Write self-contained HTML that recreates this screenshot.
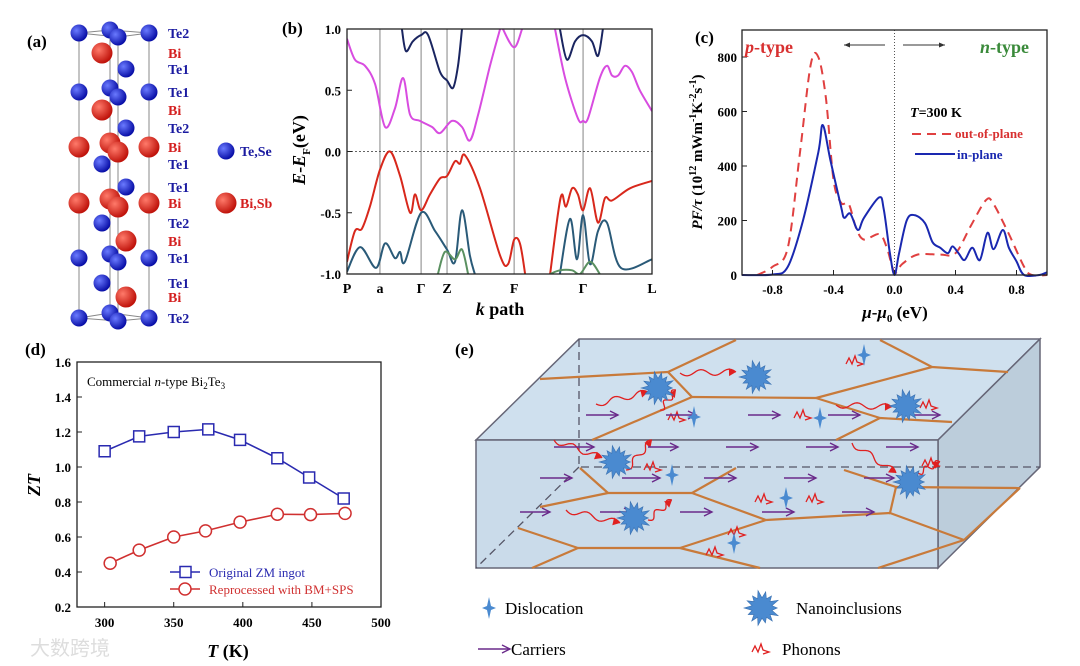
<!DOCTYPE html>
<html><head><meta charset="utf-8"><style>
html,body{margin:0;padding:0;background:#fff;}
svg{display:block;font-family:"Liberation Serif",serif;}
.b{font-weight:bold;}
</style></head><body>
<svg id="fig" width="1080" height="666" viewBox="0 0 1080 666" xmlns="http://www.w3.org/2000/svg">
<g id="pa"></g>
<g id="pb"></g>
<g id="pc"></g>
<g id="pd"></g>
<g id="pe"></g>
<text x="30" y="655" font-family="Liberation Sans,Noto Sans CJK SC,sans-serif" font-size="20" fill="#ddd">大数跨境</text>
</svg>
<script>
// ---------- data ----------
// panel a atoms: [x, y, type]
const atomsA=[[79,33,'B'],[110,30,'B'],[149,33,'B'],[118,37,'B'],[102,53,'R'],[126,69,'B'],
[79,92,'B'],[110,88,'B'],[149,92,'B'],[118,97,'B'],[102,110,'R'],[126,128,'B'],
[79,147,'R'],[110,143,'R'],[149,147,'R'],[118,152,'R'],[102,164,'B'],[126,187,'B'],
[79,203,'R'],[110,199,'R'],[149,203,'R'],[118,207,'R'],[102,223,'B'],[126,241,'R'],
[79,258,'B'],[110,254,'B'],[149,258,'B'],[118,262,'B'],[102,283,'B'],[126,297,'R'],
[79,318,'B'],[110,313,'B'],[149,318,'B'],[118,321,'B']];
const labelsA=['Te2','Bi','Te1','Te1','Bi','Te2','Bi','Te1','Te1','Bi','Te2','Bi','Te1','Te1','Bi','Te2'];
const labelYA=[33,53,69,92,110,128,147,164,187,203,223,241,258,283,297,318];

// panel b bands: k (% of path), E (eV)
const kTicks=['P','a','Γ','Z','F','Γ','L'];
const kTickPos=[0,10.8,24.3,32.8,54.8,77.4,100];
const bMagA_k=[0,2.6,5.9,9.2,12.5,15.7,18.4,20.7,23.9,27.9,30.5,34.4,37.7,40.3,43,46.9,50.2];
const bMagA_E=[0.92,0.75,0.7,0.55,0.2,0.35,0.6,0.3,0.25,0.2,0.15,0.25,0.2,0.09,0.3,0.7,1.0];
const bMagB_k=[51.1,54.8,57.4];
const bMagB_E=[1.0,0.85,1.0];
const bMagC_k=[68.2,71.5,75.7,77.4,79,82.9,85.2,86.9,88.9,91.1,93.4,96,100];
const bMagC_E=[1.0,0.6,0.27,0.25,0.27,0.6,0.7,0.62,0.62,0.7,0.65,0.5,0.33];
const bNavA_k=[18,19.3,21.6,24.3,26.6,30.5,32.8,34.8,36.4,37.7];
const bNavA_E=[1.0,0.82,0.9,0.95,0.95,0.65,0.58,0.52,0.7,1.0];
const bNavB_k=[69.8,72.1,74.8,77.4,80.3,82.3,83.9];
const bNavB_E=[1.0,0.75,0.9,0.95,0.9,0.78,1.0];
const bRedA_k=[0,2.6,4.9,7.5,10.8,14.1,17.4,20.7,22.3,24.3,27.2,30.5,32.8,35.4,37,38.7,43.6,50.2,52.8,54.8,56.7,58.4];
const bRedA_E=[-0.9,-0.65,-0.63,-0.45,-0.15,0,-0.2,-0.5,-0.35,-0.48,-0.35,-0.22,-0.2,-0.08,-0.1,-0.03,-0.3,-0.85,-0.92,-0.72,-0.75,-1.0];
const bRedB_k=[66.6,69.2,70.5,71.8,73.8,75.7,77.4,79.7,82.3,84.6,86.9,92.8,100];
const bRedB_E=[-1.0,-0.5,-0.35,-0.45,-0.3,-0.35,-0.48,-0.3,-0.58,-0.38,-0.4,-0.3,-0.24];
const bTealA_k=[0,4.3,9.5,12.5,15.7,17.4,19,24.3,28.9,32.8,35.4,37.7,40.3,41.9];
const bTealA_E=[-0.98,-0.78,-0.95,-0.75,-0.87,-0.82,-0.9,-0.5,-0.65,-0.8,-0.9,-0.48,-0.85,-1.0];
const bTealB_k=[69.8,73.1,75.4,77.4,79.7,82.3,85.2,89.8,100];
const bTealB_E=[-1.0,-0.55,-0.88,-0.52,-0.92,-0.65,-0.58,-0.95,-0.88];
const bGrnA_k=[29.8,32.1,35.4,37.7,39.7];
const bGrnA_E=[-1.0,-0.82,-0.88,-0.8,-1.0];
const bGrnB_k=[66.6,69.8,73.8,76.4,79.7,82.9];
const bGrnB_E=[-1.0,-0.97,-0.97,-1.0,-0.9,-1.0];
const bYTicks=[1.0,0.5,0.0,-0.5,-1.0];

// panel c
const cInMu=[-1,-0.8,-0.7,-0.6,-0.5,-0.47,-0.42,-0.35,-0.33,-0.29,-0.24,-0.2,-0.1,-0.07,-0.03,0,0.03,0.08,0.13,0.2,0.25,0.3,0.35,0.38,0.42,0.46,0.51,0.56,0.61,0.65,0.71,0.75,0.8,0.85,0.95,1.0];
const cInPF=[0,2,30,200,450,550,420,250,210,225,165,210,285,240,80,0,80,200,220,190,120,100,80,105,80,55,100,55,155,95,165,100,50,0,0,10];
const cOutMu=[-0.9,-0.8,-0.7,-0.62,-0.55,-0.5,-0.45,-0.4,-0.35,-0.3,-0.25,-0.2,-0.1,-0.05,0,0.05,0.15,0.3,0.4,0.5,0.6,0.65,0.75,0.85,0.9,1.0];
const cOutPF=[0,30,100,450,770,800,650,350,265,260,170,130,150,100,10,40,75,75,80,180,275,260,150,30,0,0];
const cXTicks=[-0.8,-0.4,0.0,0.4,0.8];
const cYTicks=[0,200,400,600,800];

// panel d
const dBlueT=[300,325,350,375,398,425,448,473];
const dBlueZT=[1.09,1.175,1.2,1.215,1.155,1.05,0.94,0.82];
const dRedT=[304,325,350,373,398,425,449,474];
const dRedZT=[0.45,0.525,0.60,0.635,0.685,0.73,0.728,0.735];
const dXTicks=[300,350,400,450,500];
const dYTicks=[0.2,0.4,0.6,0.8,1.0,1.2,1.4,1.6];

// ---------- helpers ----------
const NS='http://www.w3.org/2000/svg';
function mk(parent,tag,attrs,text){const e=document.createElementNS(NS,tag);for(const k in attrs)e.setAttribute(k,attrs[k]);if(text!==undefined)e.textContent=text;parent.appendChild(e);return e;}
function smooth(pts){if(pts.length<3)return 'M'+pts.map(p=>p.join(',')).join('L');let d='M'+pts[0][0]+','+pts[0][1];for(let i=0;i<pts.length-1;i++){const p0=pts[i-1]||pts[i],p1=pts[i],p2=pts[i+1],p3=pts[i+2]||p2;const c1=[p1[0]+(p2[0]-p0[0])/6,p1[1]+(p2[1]-p0[1])/6],c2=[p2[0]-(p3[0]-p1[0])/6,p2[1]-(p3[1]-p1[1])/6];d+='C'+c1[0].toFixed(1)+','+c1[1].toFixed(1)+' '+c2[0].toFixed(1)+','+c2[1].toFixed(1)+' '+p2[0].toFixed(1)+','+p2[1].toFixed(1);}return d;}

// ---------- panel a ----------
const pa=document.getElementById('pa');
let t=mk(pa,'text',{x:27,y:47,'font-size':17,'font-weight':'bold'},'(a)');


[[79,33,79,318],[149,33,149,318],[110,30,110,313],[118,37,118,321],[79,33,110,30],[110,30,149,33],[79,33,118,37],[118,37,149,33],[79,318,110,313],[110,313,149,318],[79,318,118,321],[118,321,149,318]].forEach(l=>{
 const e=mk(pa,'line',{x1:l[0],y1:l[1],x2:l[2],y2:l[3],stroke:'#888','stroke-width':1});
 
 
});
const defs=mk(document.getElementById('fig'),'defs',{});
const gb=mk(defs,'radialGradient',{id:'gB',cx:'35%',cy:'35%',r:'65%'});mk(gb,'stop',{offset:'0','stop-color':'#6a7aff'});mk(gb,'stop',{offset:'1','stop-color':'#0a10a8'});
const gr=mk(defs,'radialGradient',{id:'gR',cx:'35%',cy:'35%',r:'65%'});mk(gr,'stop',{offset:'0','stop-color':'#ff7a6a'});mk(gr,'stop',{offset:'1','stop-color':'#c0140c'});
atomsA.forEach(a=>{
 const e=mk(pa,'circle',{cx:a[0],cy:a[1],r:a[2]==='B'?8.5:10.5,fill:a[2]==='B'?'url(#gB)':'url(#gR)'});
 
 
});
labelsA.forEach((s,i)=>{
 const e=mk(pa,'text',{x:168,y:labelYA[i]+5,'font-size':14,'font-weight':'bold',fill:s==='Bi'?'#d42020':'#1a1aa0'},s);
 
 
});
[[226,151,'B','Te,Se'],[226,203,'R','Bi,Sb']].forEach(l=>{
 const c=mk(pa,'circle',{cx:l[0],cy:l[1],r:l[2]==='B'?8.5:10.5,fill:l[2]==='B'?'url(#gB)':'url(#gR)'});
 
 
 const e=mk(pa,'text',{x:240,y:l[1]+5,'font-size':14,'font-weight':'bold',fill:l[2]==='B'?'#1a1aa0':'#d42020'},l[3]);
 
 
});

// ---------- panel b ----------
const pb=document.getElementById('pb');
const bx=k=>347+k/100*305, by=E=>29+(1-E)/2*245;
t=mk(pb,'text',{x:282,y:34,'font-size':17,'font-weight':'bold'},'(b)');


const cpB=mk(defs,'clipPath',{id:'clipB'});mk(cpB,'rect',{x:347,y:29,width:305,height:245});
kTickPos.forEach((k,i)=>{
 if(i>0&&i<6){const e=mk(pb,'line',{x1:bx(k),y1:29,x2:bx(k),y2:274,stroke:'#999','stroke-width':1.2});
 
 }
 const e=mk(pb,'text',{x:bx(k),y:293,'font-size':14,'font-weight':'bold','text-anchor':'middle'},kTicks[i]);
 
 
});
t=mk(pb,'line',{x1:347,y1:by(0),x2:652,y2:by(0),stroke:'#333','stroke-width':0.8,'stroke-dasharray':'2,2'});


const bandsG=mk(pb,'g',{'clip-path':'url(#clipB)'});
[[bMagA_k,bMagA_E,'#d84ce0'],[bMagB_k,bMagB_E,'#d84ce0'],[bMagC_k,bMagC_E,'#d84ce0'],[bNavA_k,bNavA_E,'#1a2560'],[bNavB_k,bNavB_E,'#1a2560'],[bRedA_k,bRedA_E,'#d8281c'],[bRedB_k,bRedB_E,'#d8281c'],[bTealA_k,bTealA_E,'#2a5a78'],[bTealB_k,bTealB_E,'#2a5a78'],[bGrnA_k,bGrnA_E,'#5a9060'],[bGrnB_k,bGrnB_E,'#5a9060']].forEach(s=>{
 const e=mk(bandsG,'path',{d:smooth(s[0].map((k,i)=>[bx(k),by(s[1][i])])),fill:'none',stroke:s[2],'stroke-width':2});
 
 
});
t=mk(pb,'rect',{x:347,y:29,width:305,height:245,fill:'none',stroke:'#222','stroke-width':1.3});


bYTicks.forEach(v=>{
 const e=mk(pb,'text',{x:341,y:by(v)+5,'font-size':13,'font-weight':'bold','text-anchor':'end'},v.toFixed(1));
 
 
 mk(pb,'line',{x1:347,y1:by(v),x2:352,y2:by(v),stroke:'#222'});
});
t=mk(pb,'text',{x:500,y:315,'font-size':18,'font-weight':'bold','text-anchor':'middle'});
mk(t,'tspan',{'font-style':'italic'},'k');mk(t,'tspan',{},' path');


t=mk(pb,'text',{x:0,y:0,'font-size':18,'font-weight':'bold','text-anchor':'middle',transform:'translate(305,150) rotate(-90)'});
mk(t,'tspan',{'font-style':'italic'},'E');mk(t,'tspan',{},'-');mk(t,'tspan',{'font-style':'italic'},'E');mk(t,'tspan',{'font-size':11,dy:5},'F');mk(t,'tspan',{dy:-5},'(eV)');



// ---------- panel c ----------
const pc=document.getElementById('pc');
const cx=m=>742+(m+1)/2*305, cy=v=>275-v*0.2725;
t=mk(pc,'text',{x:695,y:43,'font-size':17,'font-weight':'bold'},'(c)');


t=mk(pc,'line',{x1:cx(0),y1:30,x2:cx(0),y2:275,stroke:'#555','stroke-width':1,'stroke-dasharray':'1,2'});


t=mk(pc,'path',{d:smooth(cOutMu.map((m,i)=>[cx(m),cy(cOutPF[i])])),fill:'none',stroke:'#e04040','stroke-width':2,'stroke-dasharray':'9,6'});


t=mk(pc,'path',{d:smooth(cInMu.map((m,i)=>[cx(m),cy(cInPF[i])])),fill:'none',stroke:'#1a28b0','stroke-width':2});


t=mk(pc,'rect',{x:742,y:30,width:305,height:245,fill:'none',stroke:'#222','stroke-width':1.3});


cXTicks.forEach(v=>{
 mk(pc,'line',{x1:cx(v),y1:275,x2:cx(v),y2:270,stroke:'#222'});
 const e=mk(pc,'text',{x:cx(v),y:294,'font-size':13,'font-weight':'bold','text-anchor':'middle'},v.toFixed(1));
 
 
});
cYTicks.forEach(v=>{
 mk(pc,'line',{x1:742,y1:cy(v),x2:747,y2:cy(v),stroke:'#222'});
 const e=mk(pc,'text',{x:737,y:cy(v)+5,'font-size':13,'font-weight':'bold','text-anchor':'end'},String(v));
 
 
});
t=mk(pc,'text',{x:895,y:318,'font-size':17,'font-weight':'bold','text-anchor':'middle'});
mk(t,'tspan',{'font-style':'italic'},'μ');mk(t,'tspan',{},'-');mk(t,'tspan',{'font-style':'italic'},'μ');mk(t,'tspan',{'font-size':11,dy:4},'0');mk(t,'tspan',{dy:-4},' (eV)');


t=mk(pc,'text',{x:0,y:0,'font-size':15,'font-weight':'bold','text-anchor':'middle',transform:'translate(702,152) rotate(-90)'});
mk(t,'tspan',{'font-style':'italic'},'PF/τ');mk(t,'tspan',{},' (10');mk(t,'tspan',{'font-size':10,dy:-6},'12');mk(t,'tspan',{dy:6},' mWm');mk(t,'tspan',{'font-size':10,dy:-6},'-1');mk(t,'tspan',{dy:6},'K');mk(t,'tspan',{'font-size':10,dy:-6},'-2');mk(t,'tspan',{dy:6},'s');mk(t,'tspan',{'font-size':10,dy:-6},'-1');mk(t,'tspan',{dy:6},')');


t=mk(pc,'text',{x:745,y:53,'font-size':18,'font-weight':'bold',fill:'#d83030'});mk(t,'tspan',{'font-style':'italic'},'p');mk(t,'tspan',{},'-type');


t=mk(pc,'text',{x:980,y:53,'font-size':18,'font-weight':'bold',fill:'#3a8a3a'});mk(t,'tspan',{'font-style':'italic'},'n');mk(t,'tspan',{},'-type');


[[885,844],[903,945]].forEach(a=>{
 const g=mk(pc,'g',{});
 
 
 mk(g,'line',{x1:a[0],y1:45,x2:a[1],y2:45,stroke:'#333','stroke-width':1});
 const s=a[1]<a[0]?1:-1;
 mk(g,'path',{d:`M${a[1]},45 l${6*s},-2.5 l0,5z`,fill:'#333'});
});
t=mk(pc,'text',{x:910,y:117,'font-size':14,'font-weight':'bold'});mk(t,'tspan',{'font-style':'italic'},'T');mk(t,'tspan',{},'=300 K');


t=mk(pc,'line',{x1:912,y1:134,x2:953,y2:134,stroke:'#e04040','stroke-width':2,'stroke-dasharray':'9,6'});


t=mk(pc,'text',{x:955,y:138,'font-size':13,'font-weight':'bold',fill:'#d83030'},'out-of-plane');


t=mk(pc,'line',{x1:915,y1:154,x2:955,y2:154,stroke:'#1a28b0','stroke-width':2});


t=mk(pc,'text',{x:957,y:159,'font-size':13,'font-weight':'bold',fill:'#1a28b0'},'in-plane');



// ---------- panel d ----------
const pd=document.getElementById('pd');
const dx=T=>77+(T-280)/220*304, dy=z=>607-(z-0.2)/1.4*245;
t=mk(pd,'text',{x:25,y:355,'font-size':17,'font-weight':'bold'},'(d)');


t=mk(pd,'rect',{x:77,y:362,width:304,height:245,fill:'none',stroke:'#222','stroke-width':1.3});


dXTicks.forEach(v=>{
 mk(pd,'line',{x1:dx(v),y1:607,x2:dx(v),y2:602,stroke:'#222'});
 const e=mk(pd,'text',{x:dx(v),y:627,'font-size':13,'font-weight':'bold','text-anchor':'middle'},String(v));
 
 
});
dYTicks.forEach(v=>{
 mk(pd,'line',{x1:77,y1:dy(v),x2:82,y2:dy(v),stroke:'#222'});
 const e=mk(pd,'text',{x:71,y:dy(v)+5,'font-size':13,'font-weight':'bold','text-anchor':'end'},v.toFixed(1));
 
 
});
t=mk(pd,'polyline',{points:dBlueT.map((T,i)=>dx(T)+','+dy(dBlueZT[i])).join(' '),fill:'none',stroke:'#2a2ab0','stroke-width':1.6});


t=mk(pd,'polyline',{points:dRedT.map((T,i)=>dx(T)+','+dy(dRedZT[i])).join(' '),fill:'none',stroke:'#d03030','stroke-width':1.6});


dBlueT.forEach((T,i)=>{
 const e=mk(pd,'rect',{x:dx(T)-5.5,y:dy(dBlueZT[i])-5.5,width:11,height:11,fill:'#fff',stroke:'#2a2ab0','stroke-width':1.5});
 
 
});
dRedT.forEach((T,i)=>{
 const e=mk(pd,'circle',{cx:dx(T),cy:dy(dRedZT[i]),r:6,fill:'#fff',stroke:'#d03030','stroke-width':1.5});
 
 
});
t=mk(pd,'text',{x:87,y:386,'font-size':13});
mk(t,'tspan',{},'Commercial ');mk(t,'tspan',{'font-style':'italic'},'n');mk(t,'tspan',{},'-type Bi');mk(t,'tspan',{'font-size':9,dy:3},'2');mk(t,'tspan',{dy:-3},'Te');mk(t,'tspan',{'font-size':9,dy:3},'3');


t=mk(pd,'line',{x1:170,y1:572,x2:200,y2:572,stroke:'#2a2ab0','stroke-width':1.6});


mk(pd,'rect',{x:180,y:566.5,width:11,height:11,fill:'#fff',stroke:'#2a2ab0','stroke-width':1.5});
t=mk(pd,'text',{x:209,y:577,'font-size':13,fill:'#2a2ab0'},'Original ZM ingot');


t=mk(pd,'line',{x1:170,y1:589,x2:200,y2:589,stroke:'#d03030','stroke-width':1.6});


mk(pd,'circle',{cx:185,cy:589,r:6,fill:'#fff',stroke:'#d03030','stroke-width':1.5});
t=mk(pd,'text',{x:209,y:594,'font-size':13,fill:'#d03030'},'Reprocessed with BM+SPS');


t=mk(pd,'text',{x:228,y:657,'font-size':18,'font-weight':'bold','text-anchor':'middle'});mk(t,'tspan',{'font-style':'italic'},'T');mk(t,'tspan',{},' (K)');


t=mk(pd,'text',{x:0,y:0,'font-size':18,'font-weight':'bold','font-style':'italic','text-anchor':'middle',transform:'translate(40,485) rotate(-90)'},'ZT');



// ---------- panel e ----------
const pe=document.getElementById('pe');
t=mk(pe,'text',{x:455,y:355,'font-size':17,'font-weight':'bold'},'(e)');


t=mk(pe,'polygon',{points:'476,440 579,339 1040,339 938,440',fill:'#cfe0ee',stroke:'#667','stroke-width':1.5});


t=mk(pe,'polygon',{points:'938,440 1040,339 1040,467 938,568',fill:'#bccddb',stroke:'#667','stroke-width':1.5});


t=mk(pe,'rect',{x:476,y:440,width:462,height:128,fill:'#cadbea',stroke:'#667','stroke-width':1.5});


t=mk(pe,'path',{d:'M579,339V467H1040M579,467L476,568',fill:'none',stroke:'#556','stroke-width':1.3,'stroke-dasharray':'8,5'});


const grains=[[540,379,668,372],[668,372,736,340],[668,372,692,397],[692,397,816,398],[816,398,932,367],[880,340,932,367],[932,367,1008,372],[692,397,592,440],[816,398,880,418],[880,418,952,422],[880,418,836,440],
[580,468,608,493],[608,493,540,507],[608,493,692,493],[692,493,736,468],[692,493,766,520],[766,520,890,513],[890,513,896,487],[844,470,896,487],[896,487,1020,488],[766,520,680,548],[680,548,578,548],[578,548,518,528],[578,548,532,568],[680,548,760,568],[890,513,964,540],[964,540,878,568],[964,540,1020,488]];
grains.forEach(g=>{
 const e=mk(pe,'line',{x1:g[0],y1:g[1],x2:g[2],y2:g[3],stroke:'#c87a3a','stroke-width':2.2});
 
 
});
function star(cx0,cy0,R,name){let d='';const n=14;for(let i=0;i<n*2;i++){const r=i%2?R*0.6:R*(0.9+0.15*((i*7)%3)/2);const a=i*Math.PI/n;d+=(i?'L':'M')+(cx0+r*Math.cos(a)).toFixed(1)+','+(cy0+r*Math.sin(a)).toFixed(1);}
 const e=mk(pe,'path',{d:d+'Z',fill:'#4a8ad0',stroke:'#3a70b0','stroke-width':0.6});
 
 }
function disl(x,y,name){const e=mk(pe,'path',{d:`M${x},${y-11}L${x+2},${y-2}L${x+7},${y}L${x+2},${y+2}L${x},${y+11}L${x-2},${y+2}L${x-7},${y}L${x-2},${y-2}Z`,fill:'#4a8ad0'});
 
 }
function carrier(x1,x2,y,name){const g=mk(pe,'g',{});
 
 
 mk(g,'line',{x1:x1,y1:y,x2:x2,y2:y,stroke:'#6a2a8a','stroke-width':1.4});mk(g,'path',{d:`M${x2-8},${y-4}L${x2},${y}L${x2-8},${y+4}`,fill:'none',stroke:'#6a2a8a','stroke-width':1.4});}
function wave(x1,y1,x2,y2,name){const dx0=x2-x1,dy0=y2-y1,L=Math.hypot(dx0,dy0),ux=dx0/L,uy=dy0/L;let d=`M${x1},${y1}`;const n=24;for(let i=1;i<=n;i++){const s=i/n,o=Math.sin(s*Math.PI*4)*3;d+=`L${(x1+dx0*s-uy*o).toFixed(1)},${(y1+dy0*s+ux*o).toFixed(1)}`;}
 const e=mk(pe,'path',{d:d,fill:'none',stroke:'#e02020','stroke-width':1.3});
 
 
 mk(pe,'path',{d:`M${x2},${y2}L${(x2-7*ux+4*uy).toFixed(1)},${(y2-7*uy-4*ux).toFixed(1)}L${(x2-7*ux-4*uy).toFixed(1)},${(y2-7*uy+4*ux).toFixed(1)}Z`,fill:'#e02020'});}
function phonon(x,y,name){const e=mk(pe,'path',{d:`M${x},${y}l3,-6l3,6l3,-8l2,6l6,2l-6,2`,fill:'none',stroke:'#e02020','stroke-width':1.3});
 
 }
[[596,404,648,392],[680,373,736,372],[554,440,602,458],[566,510,620,523],[836,405,892,407],[852,443,896,473],[626,470,652,440],[660,410,676,390],[648,520,672,500],[918,473,940,462]].forEach(w=>wave(w[0],w[1],w[2],w[3],'phonon-wave'));
[[846,364],[668,420],[794,418],[644,470],[755,502],[806,502],[706,555],[920,408],[922,466],[728,535]].forEach(p=>phonon(p[0],p[1],'phonon-scatter'));
[[586,618,415],[666,696,415],[748,780,415],[828,860,415],[912,940,415],[554,594,447],[648,678,447],[726,758,447],[806,838,447],[886,918,447],[540,572,478],[622,660,478],[704,736,478],[784,816,478],[864,894,478],[520,550,512],[600,632,512],[680,712,512],[762,794,512],[842,874,512]].forEach(c=>carrier(c[0],c[1],c[2],'carrier-arrow'));
[[658,388],[756,377],[906,406],[616,462],[910,482],[634,518]].forEach(s=>star(s[0],s[1],16,'nanoinclusion'));
[[864,355],[694,417],[820,418],[672,475],[786,498],[734,543]].forEach(d=>disl(d[0],d[1],'dislocation'));
// legend
disl(489,608,'legend-dislocation-icon');
t=mk(pe,'text',{x:505,y:614,'font-size':17},'Dislocation');


carrier(478,510,649,'legend-carrier-icon');
t=mk(pe,'text',{x:511,y:655,'font-size':17},'Carriers');


star(762,608,17,'legend-nanoinclusion-icon');
t=mk(pe,'text',{x:796,y:614,'font-size':17},'Nanoinclusions');


phonon(752,652,'legend-phonon-icon');
t=mk(pe,'text',{x:782,y:655,'font-size':17},'Phonons');


</script>
</body></html>
